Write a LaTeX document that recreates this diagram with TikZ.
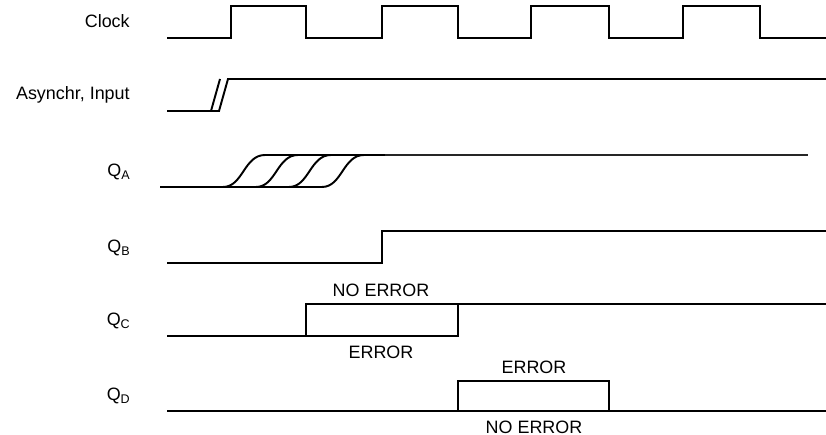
\documentclass[tikz,border=0pt]{standalone}
\usepackage{fontspec}
\setmainfont{Liberation Sans}
\usetikzlibrary{positioning}

\begin{document}
\begin{tikzpicture}[
    x=0.02cm, y=-0.02cm,
    wave/.style={line width=1.1pt, line join=miter},
    thinwave/.style={line width=0.9pt, black!85},
    siglabel/.style={anchor=east, inner sep=0pt, font=\fontsize{10.2}{12}\selectfont},
    errlabel/.style={inner sep=0pt, font=\fontsize{10.2}{12}\selectfont}
]
\useasboundingbox (0,0) rectangle (826,435);

% Signal names
\node[siglabel] (clk) at (130,21) {Clock};
\node[siglabel] (async) at (130,95) {Asynchr, Input};
\node[siglabel] (qa) at (131,172) {Q\textsubscript{A}};
\node[siglabel] (qb) at (131,248) {Q\textsubscript{B}};
\node[siglabel] (qc) at (131,321) {Q\textsubscript{C}};
\node[siglabel] (qd) at (131,396) {Q\textsubscript{D}};

% Clock
\draw[wave] (167,38) -- (231,38) -- (231,6) -- (306,6) -- (306,38) -- (382,38) -- (382,6)
    -- (458,6) -- (458,38) -- (531,38) -- (531,6) -- (609,6) -- (609,38) -- (683,38)
    -- (683,6) -- (760,6) -- (760,38) -- (826,38);

% Asynchronous input
\draw[wave] (167,111) -- (219,111) -- (228,79) -- (826,79);
\draw[wave] (211,111) -- (220,79);

% Q_A (metastable settling)
\draw[wave] (160,187) -- (322,187);
\foreach \s in {223,256,289,322}
    \draw[wave] (\s,187) .. controls (\s+20,187) and (\s+21,155) .. (\s+42,155) -- (385,155);
\draw[thinwave] (385,155) -- (808,155);

% Q_B
\draw[wave] (167,263) -- (382,263) -- (382,231) -- (826,231);

% Q_C
\draw[wave] (167,336) -- (458,336) -- (458,304);
\draw[wave] (306,336) -- (306,304) -- (826,304);
\node[errlabel] (qcok) at (381,290) {NO ERROR};
\node[errlabel] (qcerr) at (381,352) {ERROR};

% Q_D
\draw[wave] (167,411) -- (826,411);
\draw[wave] (458,411) -- (458,381) -- (609,381) -- (609,411);
\node[errlabel] (qderr) at (534,367) {ERROR};
\node[errlabel] (qdok) at (534,427) {NO ERROR};
\end{tikzpicture}
\end{document}
